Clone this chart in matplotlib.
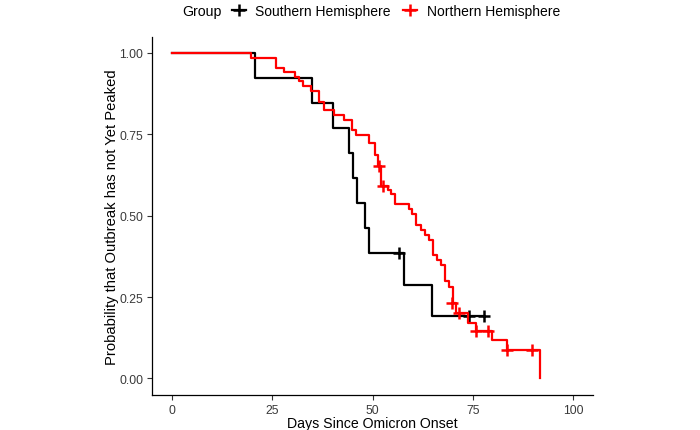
import matplotlib
matplotlib.use("Agg")
import matplotlib.pyplot as plt
from matplotlib.lines import Line2D

plt.rcParams['font.family'] = ['Liberation Sans', 'DejaVu Sans']

# Southern Hemisphere (black) step curve + censor marks
south_t = [0, 20.7, 34.8, 40.0, 44.1, 45.1, 46.1, 48.0, 49.0, 57.9, 64.9, 77.7]
south_s = [1.0, 0.923, 0.846, 0.769, 0.692, 0.615, 0.538, 0.462, 0.385, 0.288, 0.192, 0.192]
south_cens_t = [56.7, 74.0, 77.7]
south_cens_s = [0.385, 0.192, 0.192]

# Northern Hemisphere (red)
north_t = [0, 19.7, 25.8, 27.8, 30.5, 31.6, 32.6, 34.7, 36.6, 37.8, 40.3, 42.9,
           44.9, 45.9, 49.1, 50.7, 51.4, 52.0, 53.8, 54.7, 55.6, 59.0, 59.9,
           60.9, 62.0, 63.1, 64.0, 65.0, 66.0, 67.0, 68.1, 69.0, 70.0, 70.9,
           73.9, 75.7, 79.8, 83.5, 91.8]
north_s = [1.0, 0.985, 0.954, 0.943, 0.927, 0.913, 0.897, 0.882, 0.848, 0.826,
           0.810, 0.794, 0.764, 0.748, 0.724, 0.687, 0.654, 0.591, 0.578, 0.566,
           0.536, 0.521, 0.506, 0.472, 0.455, 0.442, 0.424, 0.378, 0.363, 0.348,
           0.300, 0.281, 0.231, 0.200, 0.169, 0.145, 0.118, 0.088, 0.0]
north_cens_t = [51.6, 52.6, 69.8, 71.6, 75.7, 78.8, 83.5, 89.8]
north_cens_s = [0.654, 0.591, 0.231, 0.200, 0.145, 0.145, 0.088, 0.088]

xticks = [0, 25, 50, 75, 100]
yticks = [0.0, 0.25, 0.5, 0.75, 1.0]
ytick_labels = ["0.00", "0.25", "0.50", "0.75", "1.00"]

W, H = 700, 431
fig = plt.figure(figsize=(W / 100, H / 100), dpi=100)
ax = fig.add_axes([152.3 / W, 1 - 395.7 / H, (593 - 152.3) / W, (395.7 - 37.7) / H])

black = "#000000"
red = "#FF0000"

ax.step(south_t, south_s, where="post", color=black, lw=1.6)
ax.plot(south_cens_t, south_cens_s, ls="none", marker="+", ms=8, mew=1.8, color=black)
ax.step(north_t, north_s, where="post", color=red, lw=1.6)
ax.plot(north_cens_t, north_cens_s, ls="none", marker="+", ms=8, mew=1.8, color=red)

ax.set_xlim(-5, 105)
ax.set_ylim(-0.05, 1.05)
ax.set_xticks(xticks)
ax.set_yticks(yticks)
ax.set_yticklabels(ytick_labels)
for s in ["top", "right"]:
    ax.spines[s].set_visible(False)
for s in ["left", "bottom"]:
    ax.spines[s].set_linewidth(0.9)
ax.tick_params(length=3.5, width=0.8, color="#333333", labelcolor="#3A3A3A", labelsize=8.8, pad=3)
ax.set_xlabel("Days Since Omicron Onset", fontsize=10.2, labelpad=0)
ax.set_ylabel("Probability that Outbreak has not Yet Peaked", fontsize=10.6, labelpad=0)

# legend on top
fig.text(182 / W, 1 - 12 / H, "Group", fontsize=10.2, va="center", ha="left")
handles = [Line2D([], [], color=black, lw=1.6, marker="+", ms=8, mew=1.8),
           Line2D([], [], color=red, lw=1.6, marker="+", ms=8, mew=1.8)]
fig.legend(handles, ["Southern Hemisphere", "Northern Hemisphere"], ncol=2,
           loc="center left", bbox_to_anchor=(222 / W, 1 - 12 / H), frameon=False,
           fontsize=10.0, handlelength=1.0, handletextpad=0.7, columnspacing=0.9,
           borderpad=0.2)

fig.savefig("out.png", dpi=100)
